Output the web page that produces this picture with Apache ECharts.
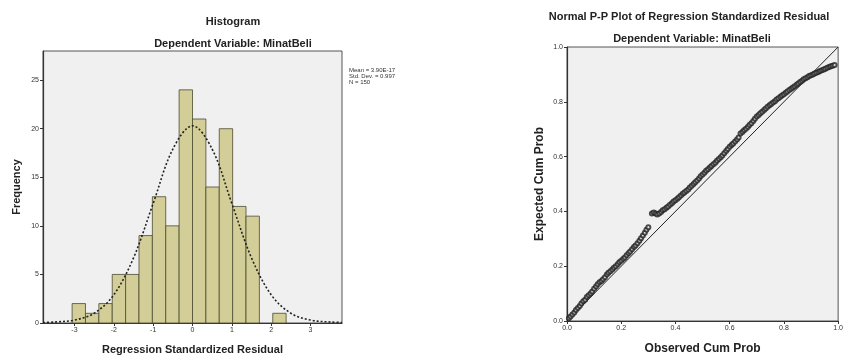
<!DOCTYPE html>
<html>
<head>
<meta charset="utf-8">
<script src="https://cdn.jsdelivr.net/npm/echarts@6/dist/echarts.min.js"></script>
<style>
html,body{margin:0;padding:0;background:#fff;}
#chart{width:846px;height:360px;}
</style>
</head>
<body>
<div id="chart"></div>
<script>
// ---- Histogram data ----
const binEdges = [-3.06,-2.72,-2.38,-2.04,-1.70,-1.36,-1.02,-0.68,-0.34,0,0.34,0.68,1.02,1.36,1.70,2.04,2.38];
const binCounts = [2,1,2,5,5,9,13,10,24,21,14,20,12,11,0,1];
const histXTicks = [-3,-2,-1,0,1,2,3];
const histYTicks = [0,5,10,15,20,25];
// normal curve
const curveX = [-3.8,-3.5,-3.0,-2.5,-2.0,-1.5,-1.0,-0.5,0,0.5,1.0,1.5,2.0,2.5,3.0,3.5,3.8];
const curveY = [0.05,0.1,0.3,1.0,2.9,6.7,12.3,17.9,20.3,17.9,12.3,6.7,2.9,1.0,0.3,0.1,0.05];
const histStats = ['Mean = 3.90E-17','Std. Dev. = 0.997','N = 150'];

// ---- P-P plot data ----
const ppObserved = [0.007,0.013,0.020,0.027,0.033,0.040,0.047,0.053,0.060,0.067,0.073,0.080,0.087,0.093,0.100,0.107,0.113,0.120,0.127,0.133,0.140,0.147,0.153,0.160,0.167,0.173,0.180,0.187,0.193,0.200,0.207,0.213,0.220,0.227,0.233,0.240,0.247,0.253,0.260,0.267,0.273,0.280,0.287,0.293,0.300,
0.313,0.320,0.327,0.333,0.340,0.347,0.353,0.360,0.367,0.373,0.380,0.387,0.393,0.400,0.407,0.413,0.420,0.427,0.433,0.440,0.447,0.453,0.460,0.467,0.473,0.480,0.487,0.493,0.500,0.507,0.513,0.520,0.527,0.533,0.540,0.547,0.553,0.560,0.567,0.573,0.580,0.587,0.593,0.600,0.607,0.613,0.620,0.627,0.633,0.640,0.647,0.653,0.660,0.667,0.673,0.680,0.687,0.693,0.700,0.707,0.713,0.720,0.727,0.733,0.740,0.747,0.753,0.760,0.767,0.773,0.780,0.787,0.793,0.800,0.807,0.813,0.820,0.827,0.833,0.840,0.847,0.853,0.860,0.867,0.873,0.880,0.887,0.893,0.900,0.907,0.913,0.920,0.927,0.933,0.940,0.947,0.953,0.960,0.967,0.973,0.980,0.987];
const ppExpected = [0.010,0.016,0.024,0.031,0.040,0.047,0.055,0.064,0.072,0.078,0.088,0.094,0.100,0.108,0.118,0.126,0.134,0.141,0.146,0.152,0.160,0.170,0.176,0.182,0.188,0.194,0.200,0.207,0.214,0.220,0.226,0.232,0.240,0.247,0.254,0.262,0.270,0.276,0.284,0.293,0.302,0.312,0.322,0.333,0.342,
0.392,0.396,0.392,0.389,0.392,0.398,0.404,0.408,0.413,0.418,0.424,0.430,0.436,0.441,0.446,0.452,0.458,0.464,0.469,0.474,0.480,0.487,0.494,0.500,0.506,0.513,0.520,0.528,0.535,0.541,0.548,0.554,0.560,0.566,0.572,0.578,0.585,0.591,0.598,0.604,0.612,0.620,0.628,0.636,0.642,0.648,0.655,0.662,0.670,0.684,0.690,0.696,0.702,0.708,0.715,0.722,0.730,0.738,0.746,0.752,0.758,0.764,0.770,0.776,0.782,0.787,0.792,0.797,0.802,0.808,0.813,0.818,0.823,0.828,0.833,0.838,0.843,0.848,0.852,0.857,0.862,0.867,0.872,0.877,0.882,0.886,0.890,0.894,0.897,0.900,0.903,0.906,0.909,0.912,0.915,0.918,0.921,0.924,0.927,0.930,0.932,0.934];
const ppTicks = [0,0.2,0.4,0.6,0.8,1.0];
const refLine = [[0,0],[1,1]];

const FONT = '"Liberation Sans", Arial, sans-serif';
const histData = binCounts.map((c,i)=>[binEdges[i], binEdges[i+1], c]);
const curveData = curveX.map((x,i)=>[x, curveY[i]]);
const ppData = ppObserved.map((x,i)=>[x, ppExpected[i]]);

const axisCommon = {
  axisLine:{show:true, onZero:false, lineStyle:{color:'#333', width:1.2}},
  axisTick:{show:true, length:3, lineStyle:{color:'#333'}},
  splitLine:{show:false},
  axisLabel:{color:'#333', fontSize:7, fontFamily:FONT, margin:4},
  nameTextStyle:{color:'#222', fontSize:11, fontWeight:'bold', fontFamily:FONT}
};

const chart = echarts.init(document.getElementById('chart'), null, {renderer:'canvas'});
chart.setOption({
  animation:false,
  backgroundColor:'#ffffff',
  title:[
    {text:'Histogram', left:228, top:11, textAlign:'center', textStyle:{fontSize:11, fontWeight:'bold', fontFamily:FONT, color:'#222'}},
    {text:'Dependent Variable: MinatBeli', left:228, top:33, textAlign:'center', textStyle:{fontSize:11, fontWeight:'bold', fontFamily:FONT, color:'#222'}},
    {text:'Normal P-P Plot of Regression Standardized Residual', left:684, top:6, textAlign:'center', textStyle:{fontSize:11, fontWeight:'bold', fontFamily:FONT, color:'#222'}},
    {text:'Dependent Variable: MinatBeli', left:687, top:28, textAlign:'center', textStyle:{fontSize:11, fontWeight:'bold', fontFamily:FONT, color:'#222'}}
  ],
  grid:[
    {left:43, top:51, width:299, height:276, show:true, backgroundColor:'#f0f0f0', borderColor:'#555', borderWidth:1},
    {left:567, top:47, width:276, height:280, show:true, backgroundColor:'#f0f0f0', borderColor:'#555', borderWidth:1}
  ],
  xAxis:[
    Object.assign({}, axisCommon, {
      gridIndex:0, type:'value', min:-3.8, max:3.8,
      name:'Regression Standardized Residual', nameLocation:'middle', nameGap:21,
      axisTick:{show:true, length:3, lineStyle:{color:'#333'}, customValues:histXTicks},
      axisLabel:Object.assign({}, axisCommon.axisLabel, {customValues:histXTicks})
    }),
    Object.assign({}, axisCommon, {
      gridIndex:1, type:'value', min:0, max:1, interval:0.2,
      name:'Observed Cum Prob', nameLocation:'middle', nameGap:22,
      nameTextStyle:{color:'#222', fontSize:12, fontWeight:'bold', fontFamily:FONT},
      axisLabel:Object.assign({}, axisCommon.axisLabel, {formatter:v=>v.toFixed(1)})
    })
  ],
  yAxis:[
    Object.assign({}, axisCommon, {
      gridIndex:0, type:'value', min:0, max:28,
      name:'Frequency', nameLocation:'middle', nameGap:21,
      axisTick:{show:true, length:3, lineStyle:{color:'#333'}, customValues:histYTicks},
      axisLabel:Object.assign({}, axisCommon.axisLabel, {customValues:histYTicks})
    }),
    Object.assign({}, axisCommon, {
      gridIndex:1, type:'value', min:0, max:1, interval:0.2,
      name:'Expected Cum Prob', nameLocation:'middle', nameGap:21,
      nameTextStyle:{color:'#222', fontSize:12, fontWeight:'bold', fontFamily:FONT},
      axisLabel:Object.assign({}, axisCommon.axisLabel, {formatter:v=>v.toFixed(1)})
    })
  ],
  graphic:[
    {type:'text', left:349, top:67, style:{text:histStats.join('\n'), fontSize:6, lineHeight:6, fontFamily:FONT, fill:'#333'}}
  ],
  series:[
    {
      type:'custom', xAxisIndex:0, yAxisIndex:0, data:histData, encode:{x:[0,1], y:2}, z:2,
      renderItem:function(params, api){
        const c = api.value(2);
        if (!c) return null;
        const p0 = api.coord([api.value(0), c]);
        const p1 = api.coord([api.value(1), 0]);
        return {type:'rect', shape:{x:p0[0], y:p0[1], width:p1[0]-p0[0], height:p1[1]-p0[1]},
          style:{fill:'#d3ce97', stroke:'#4a4a30', lineWidth:0.8}};
      }
    },
    {
      type:'line', xAxisIndex:0, yAxisIndex:0, data:curveData, smooth:0.35, showSymbol:false, z:3,
      lineStyle:{color:'#222', width:1.6, type:[2,2]}
    },
    {
      type:'line', xAxisIndex:1, yAxisIndex:1, data:refLine, showSymbol:false, z:2,
      lineStyle:{color:'#222', width:1}
    },
    {
      type:'scatter', xAxisIndex:1, yAxisIndex:1, data:ppData, symbol:'emptyCircle', symbolSize:4, z:3,
      itemStyle:{color:'#222', borderColor:'#222', borderWidth:1}
    }
  ]
});
</script>
</body>
</html>
